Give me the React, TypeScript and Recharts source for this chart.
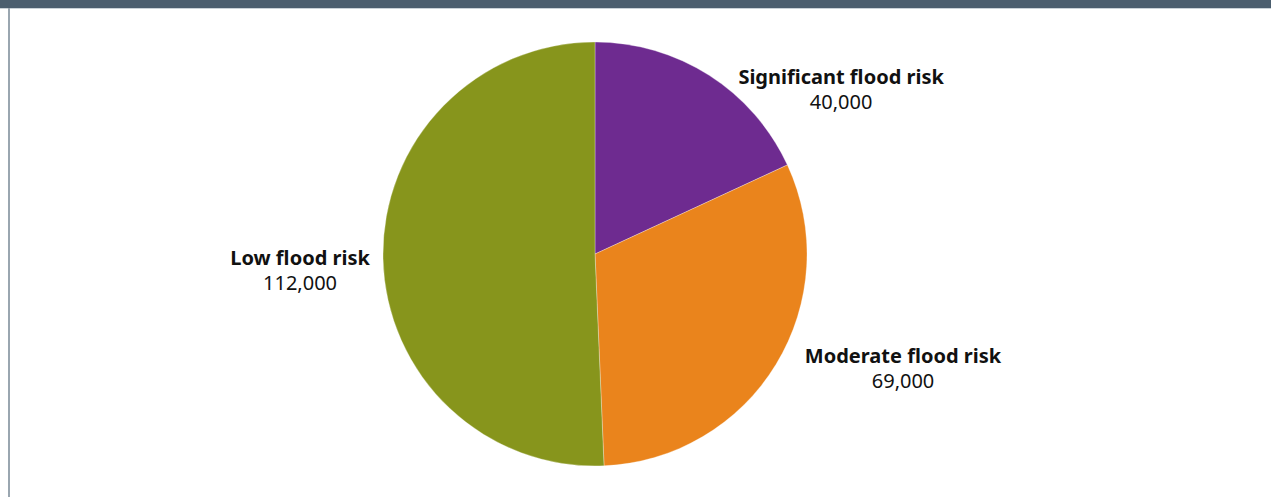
import { PieChart, Pie, Cell } from "recharts";

const categories = ["Significant flood risk", "Moderate flood risk", "Low flood risk"];
const values = [40000, 69000, 112000];
const valueLabels = ["40,000", "69,000", "112,000"];

const COLORS = ["#6e2b90", "#ea841c", "#87951c"];
// label nudges from the slice's outer edge point (to first-line baseline)
const LABEL_DX = [132, 127, -83];
const LABEL_DY = [9, -1, 6];

const data = categories.map((name, i) => ({ name, value: values[i], label: valueLabels[i] }));

const FONT = "'Noto Sans', sans-serif";

function renderLabel(props: any) {
  const { cx, cy, midAngle, outerRadius, index } = props;
  const rad = (Math.PI / 180) * midAngle;
  const x = cx + outerRadius * Math.cos(rad) + LABEL_DX[index];
  const y = cy - outerRadius * Math.sin(rad) + LABEL_DY[index];
  return (
    <text x={x} y={y} textAnchor="middle" fontFamily={FONT} fontSize={20} fill="#111111">
      <tspan x={x} dy={0} fontWeight="bold">
        {data[index].name}
      </tspan>
      <tspan x={x} dy={25}>
        {data[index].label}
      </tspan>
    </text>
  );
}

export default function App() {
  return (
    <div style={{ position: "absolute", left: 0, top: 0, width: 1271, height: 497, background: "#fff" }}>
      <div style={{ position: "absolute", left: 0, top: 0, width: 1271, height: 8, background: "#4b5e6e" }} />
      <div style={{ position: "absolute", left: 0, top: 8, width: 1271, height: 1, background: "#c9d1d7" }} />
      <div style={{ position: "absolute", left: 8, top: 8, width: 2, height: 489, background: "#9aa6b0" }} />
      <div style={{ position: "absolute", left: 0, top: 0 }}>
        <PieChart width={1271} height={497} margin={{ top: 0, right: 0, bottom: 0, left: 0 }}>
          <Pie
            data={data}
            dataKey="value"
            cx={595}
            cy={254}
            outerRadius={212}
            startAngle={90}
            endAngle={-270}
            stroke="#ffffff"
            strokeWidth={0.3}
            label={renderLabel}
            labelLine={false}
            isAnimationActive={false}
          >
            {data.map((d, i) => (
              <Cell key={d.name} fill={COLORS[i]} />
            ))}
          </Pie>
        </PieChart>
      </div>
    </div>
  );
}
